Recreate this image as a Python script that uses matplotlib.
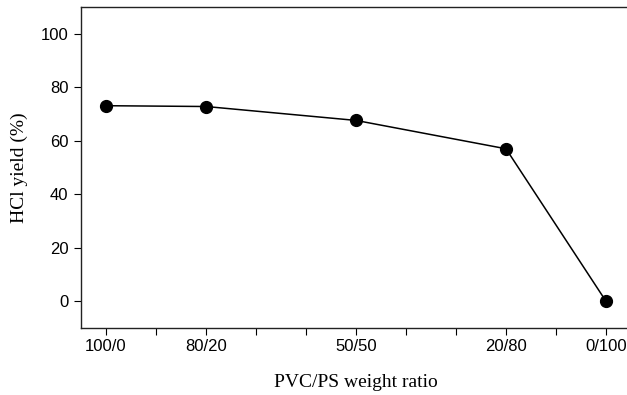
import matplotlib.pyplot as plt
from matplotlib.ticker import MultipleLocator

# PS fraction in the blend (wt%) and the HCl yield
ps_share = [0, 20, 50, 80, 100]
hcl_yield = [73.1, 72.8, 67.6, 57.0, 0.0]
tick_pos = [0, 20, 50, 80, 100]
tick_labels = ['100/0', '80/20', '50/50', '20/80', '0/100']
y_ticks = [0, 20, 40, 60, 80, 100]

fig = plt.figure(figsize=(6.27, 3.95), dpi=100)
ax = fig.add_axes([81 / 627, 67 / 395, 550 / 627, 321 / 395])

ax.plot(ps_share, hcl_yield, color='black', linewidth=1.1,
        marker='o', markersize=8.5, markerfacecolor='black', markeredgecolor='black')

ax.set_xlim(-5, 105)
ax.set_ylim(-10, 110)

ax.set_xticks(tick_pos)
ax.set_xticklabels(tick_labels, fontfamily='Liberation Sans', fontsize=12)
ax.xaxis.set_minor_locator(MultipleLocator(10))
ax.set_yticks(y_ticks)
ax.set_yticklabels([str(v) for v in y_ticks], fontfamily='Liberation Sans', fontsize=12)

ax.tick_params(axis='both', which='both', direction='out', length=5, width=0.8, color='black')
ax.tick_params(axis='x', which='major', pad=3)
ax.tick_params(axis='y', which='major', pad=4)

for side in ['left', 'bottom', 'top']:
    ax.spines[side].set_linewidth(1.0)
    ax.spines[side].set_color('#222222')
ax.spines['right'].set_visible(False)

ax.set_xlabel('PVC/PS weight ratio', fontfamily='Liberation Serif', fontsize=14, labelpad=14)
ax.set_ylabel('HCl yield (%)', fontfamily='Liberation Serif', fontsize=14, labelpad=9)

fig.savefig('out.png', dpi=100)
